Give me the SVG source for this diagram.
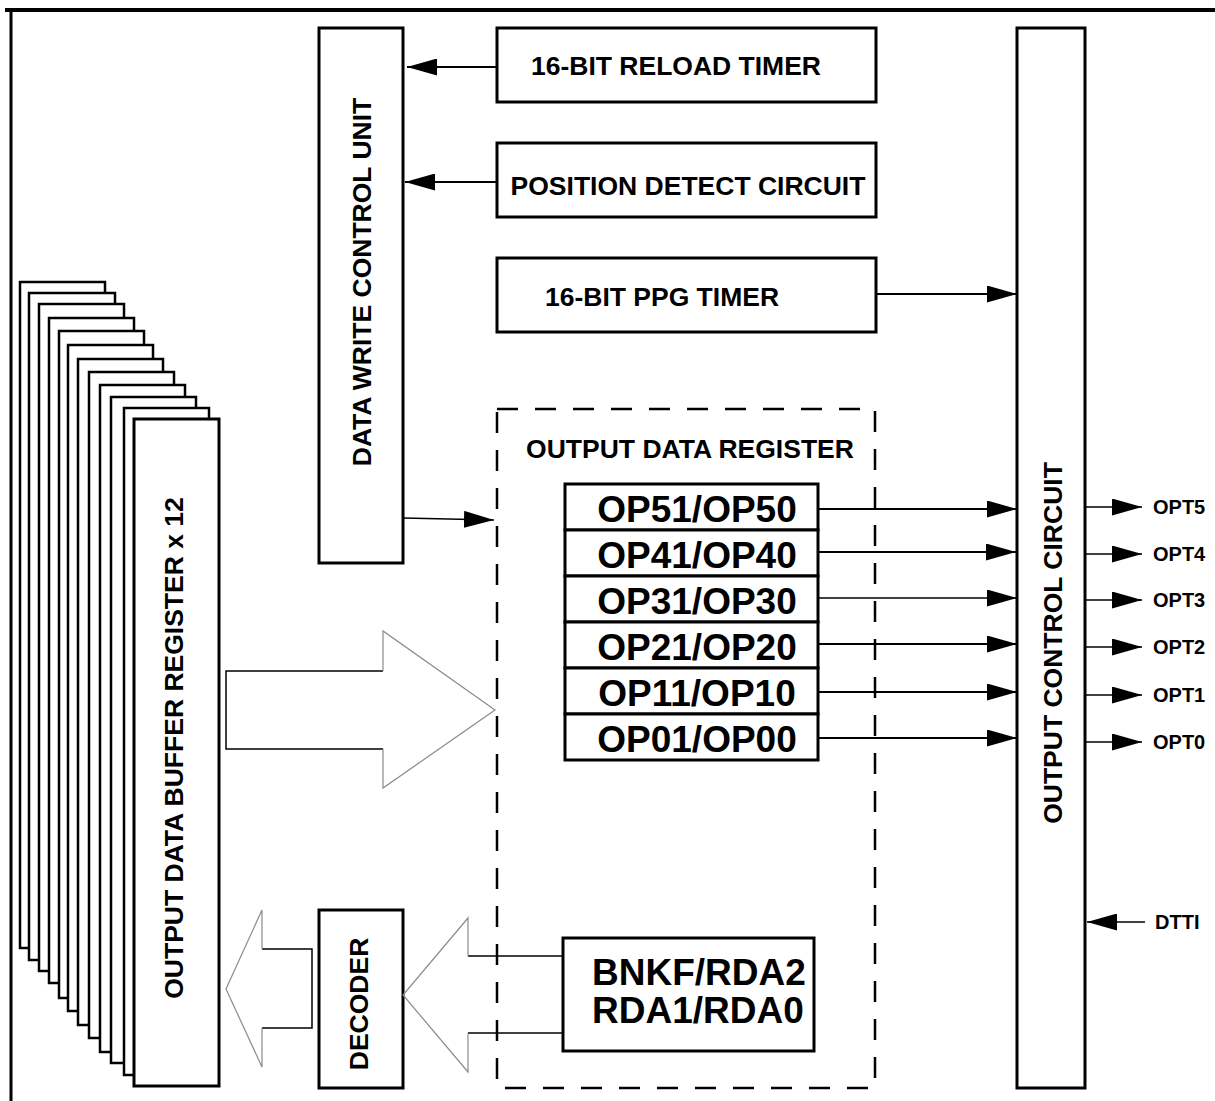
<svg xmlns="http://www.w3.org/2000/svg" width="1215" height="1101" viewBox="0 0 1215 1101">
<style>
text{font-family:"Liberation Sans",Arial,Helvetica,sans-serif;font-weight:bold;fill:#000}
.box{fill:#fff;stroke:#000;stroke-width:3}
.lay{fill:#fff;stroke:#000;stroke-width:2.5}
.lbl{font-size:26.5px}
.op{font-size:37px}
.pin{font-size:20px}
.ln{stroke:#000;stroke-width:2;fill:none}
.thin{stroke:#000;stroke-width:1.5;fill:none}
.grey{stroke:#8a8a8a;stroke-width:1.2;fill:none}
</style>
<defs>
<marker id="ah" markerUnits="userSpaceOnUse" markerWidth="30" markerHeight="17" refX="30" refY="8.5" orient="auto">
<path d="M0,0 L30,8.5 L0,17 Z" fill="#000"/>
</marker>
</defs>
<rect width="1215" height="1101" fill="#fff"/>
<g id="frame">
<line x1="5" y1="10" x2="1215" y2="10" stroke="#000" stroke-width="4"/>
<line x1="11" y1="8" x2="11" y2="1101" stroke="#000" stroke-width="3"/>
</g>
<g id="buffer-stack">
<rect class="lay" x="20" y="282" width="85" height="666"/>
<rect class="lay" x="29" y="293" width="86" height="667"/>
<rect class="lay" x="39" y="304" width="85" height="667"/>
<rect class="lay" x="49" y="318" width="85" height="665"/>
<rect class="lay" x="59" y="331" width="85" height="667"/>
<rect class="lay" x="68" y="345" width="85" height="666"/>
<rect class="lay" x="78" y="359" width="85" height="666"/>
<rect class="lay" x="89" y="372" width="85" height="666"/>
<rect class="lay" x="100" y="385" width="85" height="667"/>
<rect class="lay" x="111" y="397" width="85" height="666"/>
<rect class="lay" x="124" y="408" width="85" height="667"/>
<rect class="box" x="134" y="419" width="85" height="667"/>
<text class="lbl" font-size="27.5" transform="translate(173,748) rotate(-90)" text-anchor="middle" dy="0.36em">OUTPUT DATA BUFFER REGISTER x 12</text>
</g>
<g id="dwcu">
<rect class="box" x="319" y="28" width="84" height="535"/>
<text class="lbl" font-size="27" transform="translate(361,282) rotate(-90)" text-anchor="middle" dy="0.36em">DATA WRITE CONTROL UNIT</text>
</g>
<g id="reload-timer">
<rect class="box" x="497" y="28" width="379" height="74"/>
<text class="lbl" x="676" y="75" text-anchor="middle">16-BIT RELOAD TIMER</text>
</g>
<g id="position-detect">
<rect class="box" x="497" y="143" width="379" height="74"/>
<text class="lbl" x="688" y="195" text-anchor="middle">POSITION DETECT CIRCUIT</text>
</g>
<g id="ppg-timer">
<rect class="box" x="497" y="258" width="379" height="74"/>
<text class="lbl" x="662" y="306" text-anchor="middle">16-BIT PPG TIMER</text>
</g>
<g id="output-data-register">
<rect x="497" y="409" width="378" height="679" fill="none" stroke="#000" stroke-width="2.5" stroke-dasharray="21 17"/>
<text class="lbl" x="690" y="458" text-anchor="middle">OUTPUT DATA REGISTER</text>
</g>
<g id="op-registers">
<rect class="box" x="565" y="484" width="253" height="46"/>
<rect class="box" x="565" y="530" width="253" height="46"/>
<rect class="box" x="565" y="576" width="253" height="46"/>
<rect class="box" x="565" y="622" width="253" height="46"/>
<rect class="box" x="565" y="668" width="253" height="46"/>
<rect class="box" x="565" y="714" width="253" height="46"/>
<text class="op" x="697" y="522" text-anchor="middle">OP51/OP50</text>
<text class="op" x="697" y="568" text-anchor="middle">OP41/OP40</text>
<text class="op" x="697" y="614" text-anchor="middle">OP31/OP30</text>
<text class="op" x="697" y="660" text-anchor="middle">OP21/OP20</text>
<text class="op" x="697" y="706" text-anchor="middle">OP11/OP10</text>
<text class="op" x="697" y="752" text-anchor="middle">OP01/OP00</text>
</g>
<g id="bnkf">
<rect class="box" x="563" y="938" width="251" height="113"/>
<text class="op" x="592" y="985">BNKF/RDA2</text>
<text class="op" x="592" y="1023">RDA1/RDA0</text>
</g>
<g id="decoder">
<rect class="box" x="319" y="910" width="84" height="178"/>
<text class="lbl" font-size="25.5" transform="translate(358,1004) rotate(-90)" text-anchor="middle" dy="0.36em">DECODER</text>
</g>
<g id="output-control">
<rect class="box" x="1017" y="28" width="68" height="1060"/>
<text class="lbl" font-size="24" transform="translate(1052,643) rotate(-90)" text-anchor="middle" dy="0.36em">OUTPUT CONTROL CIRCUIT</text>
</g>
<g id="pins">
<text class="pin" x="1153" y="514">OPT5</text>
<text class="pin" x="1153" y="561">OPT4</text>
<text class="pin" x="1153" y="607">OPT3</text>
<text class="pin" x="1153" y="654">OPT2</text>
<text class="pin" x="1153" y="702">OPT1</text>
<text class="pin" x="1153" y="749">OPT0</text>
<text class="pin" x="1155" y="929">DTTI</text>
</g>
<g id="connectors">
<line class="ln" x1="497" y1="67" x2="407" y2="67" marker-end="url(#ah)"/>
<line class="ln" x1="497" y1="182" x2="405" y2="182" marker-end="url(#ah)"/>
<line class="ln" x1="876" y1="294" x2="1017" y2="294" marker-end="url(#ah)"/>
<line class="thin" x1="403" y1="518" x2="494" y2="520" marker-end="url(#ah)"/>
<line class="ln" x1="818" y1="509" x2="1017" y2="509" marker-end="url(#ah)"/>
<line class="ln" x1="818" y1="552" x2="1016" y2="552" marker-end="url(#ah)"/>
<line class="thin" x1="818" y1="598" x2="1017" y2="598" marker-end="url(#ah)"/>
<line class="ln" x1="818" y1="644" x2="1017" y2="644" marker-end="url(#ah)"/>
<line class="ln" x1="818" y1="692" x2="1017" y2="692" marker-end="url(#ah)"/>
<line class="ln" x1="818" y1="738" x2="1017" y2="738" marker-end="url(#ah)"/>
<line class="thin" x1="1086" y1="507" x2="1142" y2="507" marker-end="url(#ah)"/>
<line class="thin" x1="1086" y1="554" x2="1142" y2="554" marker-end="url(#ah)"/>
<line class="thin" x1="1086" y1="600" x2="1142" y2="600" marker-end="url(#ah)"/>
<line class="thin" x1="1086" y1="647" x2="1142" y2="647" marker-end="url(#ah)"/>
<line class="thin" x1="1086" y1="695" x2="1142" y2="695" marker-end="url(#ah)"/>
<line class="thin" x1="1086" y1="742" x2="1142" y2="742" marker-end="url(#ah)"/>
<line class="thin" x1="1145" y1="922" x2="1087" y2="922" marker-end="url(#ah)"/>
<g id="bus-to-register">
<polyline class="thin" points="383,671 226,671 226,749 383,749"/>
<polyline class="grey" points="383,671 383,631 495,710 383,788 383,749"/>
</g>
<g id="bus-to-decoder">
<polyline class="thin" points="563,956 468,956"/>
<polyline class="thin" points="563,1033 468,1033"/>
<polyline class="grey" points="468,956 468,918 403,995 468,1072 468,1033"/>
</g>
<g id="bus-to-buffer">
<polyline class="thin" points="262,949 312,949 312,1028 262,1028"/>
<polyline class="grey" points="262,949 262,910 226,989 262,1067 262,1028"/>
</g>
</g>
</svg>
